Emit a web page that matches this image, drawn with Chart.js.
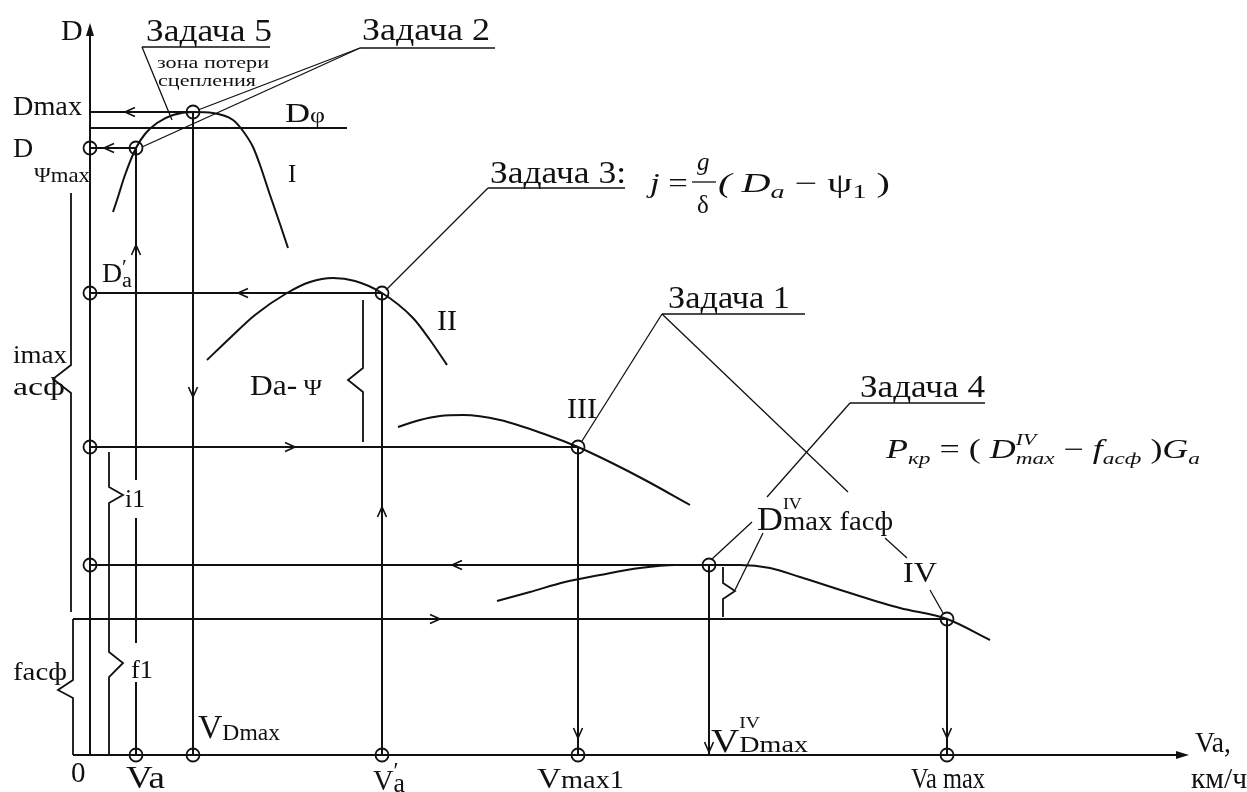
<!DOCTYPE html>
<html><head><meta charset="utf-8">
<style>html,body{margin:0;padding:0;background:#fff}canvas{display:block}</style>
<script src="https://cdn.jsdelivr.net/npm/chart.js@4.4.1/dist/chart.umd.min.js"></script>
</head><body>
<canvas id="c" width="1247" height="792" style="width:1247px;height:792px"></canvas>
<script>
// ---------------- data (speed V, dynamic factor D) ----------------
const V_A = 4.6, V_DMAX = 10.3, V_A2 = 29.2, V_MAX1 = 48.8, V_DMAX_IV = 61.9, V_AMAX = 85.7, V_END = 109.5;
const D_MAX = 0.643, D_PHI = 0.627, D_PSI_MAX = 0.607, D_A2 = 0.462, D_III = 0.308, D_IV = 0.190, F_ASF = 0.136, D_TOP = 0.728;

const curveI_V  = [2.3, 2.7, 3.5, 4.6, 5.5, 6.7, 8.3, 10.3, 12.3, 14.3, 15.3, 16.3, 17.0, 18.0, 19.0, 19.8];
const curveI_D  = [.543,.555,.580,.607,.621,.632,.640,.643,.642,.635,.624,.608,.590,.560,.531,.507];
const curveII_V = [11.7, 14.0, 16.5, 19.7, 22.0, 24.3, 26.5, 29.2, 32.3, 34.0, 35.7];
const curveII_D = [.395,.417,.440,.462,.473,.477,.474,.462,.437,.415,.390];
const curveIII_V= [30.8, 33.0, 35.0, 37.3, 41.0, 45.7, 48.8, 52.0, 55.5, 60.0];
const curveIII_D= [.328,.335,.339,.340,.335,.320,.308,.293,.275,.250];
const curveIV_V = [40.7, 44.0, 47.5, 51.0, 55.0, 58.5, 61.9, 65.0, 68.0, 71.0, 76.0, 81.0, 85.7, 90.0];
const curveIV_D = [.154,.163,.173,.180,.187,.190,.190,.190,.187,.178,.162,.147,.136,.115];

// horizontal construction lines
const hLevel = [D_MAX, D_PHI, D_PSI_MAX, D_A2, D_III, D_IV, F_ASF];
const hStart = [0, 0, 0, 0, 0, 0, -1.7];
const hEnd   = [V_DMAX, 25.7, V_A, V_A2, V_MAX1, V_DMAX_IV, V_AMAX];
const hArrow = [3.5, null, 1.4, 14.8, 20.5, 36.2, 35.0];
const hDir   = ['L', null, 'L', 'L', 'R', 'L', 'R'];
// vertical construction lines
const vPos   = [V_DMAX, V_A2, V_MAX1, V_DMAX_IV, V_AMAX];
const vTop   = [D_MAX, D_A2, D_III, D_IV, F_ASF];
const vArrow = [0.358, 0.248, 0.017, 0.003, 0.017];
const vDir   = ['D', 'U', 'D', 'D', 'D'];
// V_a line pieces (interrupted by labels i1, f1)
const vaPieces = [[0, 0.073], [0.112, 0.237], [0.275, D_PSI_MAX]];
const vaArrow = 0.510;

// circles
const axisCircleD = [D_PSI_MAX, D_A2, D_III, D_IV];
const axisCircleV = [V_A, V_DMAX, V_A2, V_MAX1, V_AMAX];
const curveCircleV = [V_A, V_DMAX, V_A2, V_MAX1, V_DMAX_IV, V_AMAX];
const curveCircleD = [D_PSI_MAX, D_MAX, D_A2, D_III, D_IV, F_ASF];

// braces (polylines)
const braceFasf = [[-1.7,F_ASF],[-1.7,.075],[-3.2,.065],[-1.7,.057],[-1.7,0]];
const braceImax = [[-1.9,.562],[-1.9,.390],[-3.7,.376],[-1.9,.362],[-1.9,.143]];
const braceI1F1 = [[1.9,.303],[1.9,.268],[3.3,.260],[1.9,.252],[1.9,.103],[3.3,.092],[1.9,.078],[1.9,0]];
const braceDaPsi= [[27.3,.455],[27.3,.387],[25.8,.375],[27.3,.363],[27.3,.313]];
const braceIV   = [[63.3,.188],[63.3,.172],[64.5,.164],[63.3,.156],[63.3,.138]];

// leader lines / underlines
const leaders = [
  [[5.2,.708],[18.0,.708]], [[5.2,.708],[8.2,.635]],
  [[27.0,.707],[40.5,.707]], [[27.0,.707],[10.8,.645]], [[27.0,.707],[5.2,.608]],
  [[39.8,.567],[53.5,.567]], [[39.8,.567],[29.6,.465]],
  [[57.2,.441],[71.5,.441]], [[57.2,.441],[49.2,.314]], [[57.2,.441],[75.8,.263]],
  [[79.5,.217],[81.7,.197]], [[84.0,.165],[85.3,.142]],
  [[76.0,.352],[89.5,.352]], [[76.0,.352],[67.7,.258]],
  [[66.2,.233],[62.2,.196]], [[67.3,.222],[64.5,.165]],
  [[60.2,.573],[62.6,.573]]
];

// ---------------- build datasets ----------------
const INK = '#111';
const P = (x, y) => ({x, y});
const ds = [];
function seg(points, w, extra) {
  ds.push(Object.assign({data: points.map(p => P(p[0], p[1])), showLine: true, borderColor: INK,
    borderWidth: w, pointRadius: 0, tension: 0, fill: false}, extra || {}));
}
function curve(vs, dsv) {
  ds.push({data: vs.map((v, i) => P(v, dsv[i])), showLine: true, borderColor: INK, borderWidth: 2,
    pointRadius: 0, cubicInterpolationMode: 'monotone', fill: false});
}
// axes
seg([[0, 0], [0, D_TOP]], 2);
seg([[-1.7, 0], [V_END, 0]], 2);
hLevel.forEach((d, i) => seg([[hStart[i], d], [hEnd[i], d]], 2));
vPos.forEach((v, i) => seg([[v, 0], [v, vTop[i]]], 2));
vaPieces.forEach(p => seg([[V_A, p[0]], [V_A, p[1]]], 2));
[braceFasf, braceImax, braceI1F1, braceDaPsi, braceIV].forEach(b => seg(b, 1.8));
leaders.forEach(l => seg(l, 1.3));
curve(curveI_V, curveI_D);
curve(curveII_V, curveII_D);
curve(curveIII_V, curveIII_D);
curve(curveIV_V, curveIV_D);
const circ = [];
axisCircleD.forEach(d => circ.push(P(0, d)));
axisCircleV.forEach(v => circ.push(P(v, 0)));
curveCircleV.forEach((v, i) => circ.push(P(v, curveCircleD[i])));
ds.push({data: circ, showLine: false, pointRadius: 6.5, pointBorderWidth: 1.8,
  pointBorderColor: INK, pointBackgroundColor: 'rgba(0,0,0,0)', pointStyle: 'circle'});

// ---------------- text annotations ----------------
const R = (t, k, dy, it, na) => ({t, k: k || 1, dy: dy || 0, it: !!it, na: !!na});
const labels = [
  {x:-2.9, y:.715, s:30, runs:[R('D')]},
  {x:5.6, y:.714, s:31, w:126, runs:[R('Задача 5')]},
  {x:6.7, y:.687, s:17, w:112, runs:[R('зона потери')]},
  {x:6.8, y:.669, s:17, w:98, runs:[R('сцепления')]},
  {x:27.2, y:.715, s:31, w:128, runs:[R('Задача 2')]},
  {x:-7.7, y:.640, s:27, w:69, runs:[R('Dmax')]},
  {x:19.5, y:.633, s:27, w:40, runs:[R('D'), R('φ', .75)]},
  {x:-7.7, y:.598, s:28, runs:[R('D')]},
  {x:-5.6, y:.573, s:21, w:56, runs:[R('Ψmax')]},
  {x:19.8, y:.573, s:25, runs:[R('I')]},
  {x:1.2, y:.473, s:27, w:30, runs:[R('D'), R('′', .8, -8, false, true), R('a', .8, 5)]},
  {x:-7.7, y:.392, s:25, w:54, runs:[R('imax')]},
  {x:-7.7, y:.360, s:25, w:52, runs:[R('acф')]},
  {x:16.0, y:.360, s:29, w:72, runs:[R('Da'), R('-'), R(' Ψ', .8)]},
  {x:34.7, y:.425, s:30, w:20, runs:[R('II')]},
  {x:47.7, y:.337, s:30, w:30, runs:[R('III')]},
  {x:3.5, y:.248, s:25, w:20, runs:[R('i1')]},
  {x:4.1, y:.077, s:25, w:22, runs:[R('f1')]},
  {x:-7.7, y:.075, s:25, w:54, runs:[R('facф')]},
  {x:10.8, y:.017, s:33, w:82, runs:[R('V'), R('Dmax', .7, 2)]},
  {x:-1.9, y:-.027, s:29, runs:[R('0')]},
  {x:3.6, y:-.033, s:31, w:39, runs:[R('Va')]},
  {x:28.3, y:-.035, s:30, w:32, runs:[R('V'), R('′', .8, -12, false, true), R('a', .9, 2)]},
  {x:44.7, y:-.033, s:30, w:87, runs:[R('V'), R('max1', .85)]},
  {x:62.1, y:.003, s:33, w:97, runs:[R('V'), R('IV', .5, -24, false, true), R('Dmax', .72)]},
  {x:66.7, y:.225, s:33, w:136, runs:[R('D'), R('IV', .5, -21, false, true), R('max', .8), R(' facф', .8)]},
  {x:81.3, y:.173, s:30, w:34, runs:[R('IV')]},
  {x:82.1, y:-.033, s:30, w:74, runs:[R('Va max')]},
  {x:110.5, y:.003, s:29, w:36, runs:[R('Va,')]},
  {x:110.1, y:-.033, s:29, w:56, runs:[R('км/ч')]},
  {x:40.0, y:.572, s:31, w:136, runs:[R('Задача 3:')]},
  {x:56.0, y:.563, s:27, w:38, runs:[R('j', 1, 0, true), R(' =')]},
  {x:60.7, y:.585, s:25, runs:[R('g', 1, 0, true)]},
  {x:60.7, y:.542, s:25, runs:[R('δ')]},
  {x:62.8, y:.563, s:27, w:172, runs:[R('( ', 1, 0, true), R('D', 1, 0, true), R('a', .7, 6, true), R(' − ψ'), R('1', .7, 6), R(' )')]},
  {x:57.8, y:.447, s:31, w:122, runs:[R('Задача 1')]},
  {x:77.0, y:.358, s:31, w:125, runs:[R('Задача 4')]},
  {x:79.6, y:.297, s:27, w:314, runs:[R('P', 1, 0, true), R('кр', .65, 6, true), R(' = ( '), R('D', 1, 0, true),
     R('IV', .6, -13, true, true), R('max', .65, 6, true), R(' − '), R('f', 1, 0, true), R('acф', .65, 6, true),
     R(' )'), R('G', 1, 0, true), R('a', .65, 6, true)]}
];

const FONT = '"Liberation Serif","Times New Roman",serif';
const fontOf = (sz, it) => (it ? 'italic ' : '') + sz + 'px ' + FONT;

const annot = {
  id: 'annot',
  afterDatasetsDraw(chart) {
    const ctx = chart.ctx, sx = chart.scales.x, sy = chart.scales.y;
    const X = v => sx.getPixelForValue(v), Y = d => sy.getPixelForValue(d);
    ctx.save();
    ctx.strokeStyle = INK; ctx.fillStyle = INK; ctx.lineWidth = 1.6;
    function chevron(x, y, dir) {
      const a = 10, b = 4.5;
      ctx.beginPath();
      if (dir === 'L') { ctx.moveTo(x + a, y - b); ctx.lineTo(x, y); ctx.lineTo(x + a, y + b); }
      if (dir === 'R') { ctx.moveTo(x - a, y - b); ctx.lineTo(x, y); ctx.lineTo(x - a, y + b); }
      if (dir === 'U') { ctx.moveTo(x - b, y + a); ctx.lineTo(x, y); ctx.lineTo(x + b, y + a); }
      if (dir === 'D') { ctx.moveTo(x - b, y - a); ctx.lineTo(x, y); ctx.lineTo(x + b, y - a); }
      ctx.stroke();
    }
    hLevel.forEach((d, i) => { if (hArrow[i] !== null) chevron(X(hArrow[i]), Y(d), hDir[i]); });
    vPos.forEach((v, i) => chevron(X(v), Y(vArrow[i]), vDir[i]));
    chevron(X(V_A), Y(vaArrow), 'U');
    // axis arrowheads (filled)
    let x0 = X(0), y0 = Y(D_TOP);
    ctx.beginPath(); ctx.moveTo(x0, y0 - 4); ctx.lineTo(x0 - 4, y0 + 9); ctx.lineTo(x0 + 4, y0 + 9); ctx.closePath(); ctx.fill();
    x0 = X(V_END); y0 = Y(0);
    ctx.beginPath(); ctx.moveTo(x0 + 4, y0); ctx.lineTo(x0 - 9, y0 - 4); ctx.lineTo(x0 - 9, y0 + 4); ctx.closePath(); ctx.fill();
    // labels
    ctx.textBaseline = 'alphabetic'; ctx.textAlign = 'left';
    labels.forEach(L => {
      let total = 0;
      const m = L.runs.map(r => { ctx.font = fontOf(L.s * r.k, r.it); const w = ctx.measureText(r.t).width; if (!r.na) total += w; return w; });
      const st = L.w ? L.w / total : 1;
      ctx.save(); ctx.translate(X(L.x), Y(L.y)); ctx.scale(st, 1);
      let cx = 0;
      L.runs.forEach((r, i) => { ctx.font = fontOf(L.s * r.k, r.it); ctx.fillText(r.t, cx, r.dy); if (!r.na) cx += m[i]; });
      ctx.restore();
    });
    ctx.restore();
  }
};

new Chart(document.getElementById('c').getContext('2d'), {
  type: 'scatter',
  data: {datasets: ds},
  options: {
    responsive: false, animation: false, devicePixelRatio: 1, events: [],
    layout: {padding: 0, autoPadding: false},
    plugins: {legend: {display: false}, tooltip: {enabled: false}},
    scales: {
      x: {type: 'linear', min: -9, max: 115.7, display: false},
      y: {type: 'linear', min: -0.037, max: 0.755, display: false}
    }
  },
  plugins: [annot]
});
</script>
</body></html>
